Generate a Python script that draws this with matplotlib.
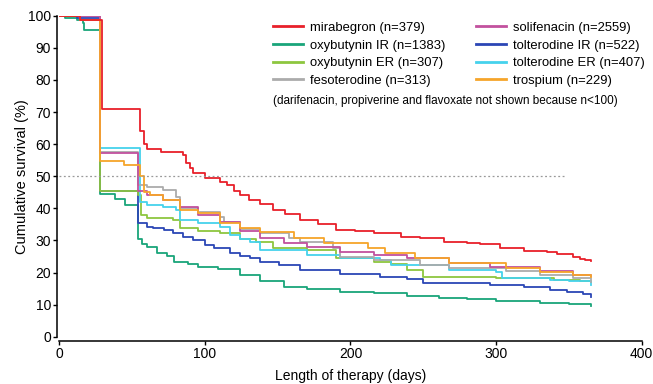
import numpy as np
import matplotlib
matplotlib.use("Agg")
import matplotlib.pyplot as plt

plt.rcParams["font.family"] = ["Liberation Sans", "DejaVu Sans"]

# Kaplan-Meier style curves (day, % still on therapy)
mira_days = [0, 14, 29, 55, 58, 60, 70, 85, 87, 90, 92, 100, 110, 115, 120, 124, 130, 138, 147, 155,
             165, 178, 190, 203, 216, 235, 248, 264, 280, 289, 303, 319, 335, 342, 353, 358, 361, 365]
mira_vals = [100, 98.7, 71, 64, 60, 58.5, 57.5, 56.5, 54.2, 52.5, 51, 49.5, 48.3, 47.3, 45.5, 44.1,
             42.6, 41.5, 39.5, 38.3, 36.5, 35, 33.4, 32.8, 32.3, 31.2, 30.7, 29.6, 29.2, 28.9, 27.5,
             26.8, 26.3, 25.8, 24.9, 24.3, 23.9, 23.5]

oxyir_days = [0, 4, 12, 16, 17, 28, 38, 45, 54, 57, 60, 67, 74, 79, 88, 95, 109, 124, 138, 154, 170,
              193, 216, 239, 261, 280, 300, 330, 350, 365]
oxyir_vals = [100, 99.2, 98.7, 97.6, 95.5, 44.5, 43, 41, 30.3, 29, 28, 26, 25, 23.4, 22.5, 21.8, 21,
              19.2, 17.3, 15.6, 14.9, 14, 13.5, 12.7, 12.2, 11.8, 11.2, 10.5, 10.1, 9.7]

oxyer_days = [0, 28, 54, 56, 60, 78, 83, 95, 110, 124, 135, 147, 170, 190, 216, 228, 239, 250, 300,
              340, 358, 365]
oxyer_vals = [100, 45.5, 44, 38, 37, 36.4, 34, 33, 32.2, 30.5, 29.5, 27.5, 27, 24.4, 23.4, 22.5, 20.8,
              18.7, 18.2, 17.7, 17.2, 16.9]

feso_days = [0, 28, 54, 60, 71, 80, 83, 95, 110, 113, 124, 138, 158, 165, 188, 193, 216, 248, 268,
             307, 330, 353, 365]
feso_vals = [100, 57.6, 47.3, 46.5, 45.7, 43.6, 40, 38.9, 37.4, 35.8, 33.5, 32.2, 30.7, 29.6, 27.5,
             24.9, 23.9, 22.3, 21.5, 20.5, 19.3, 18.2, 17.1]

soli_days = [0, 28, 54, 60, 71, 83, 95, 110, 124, 138, 154, 170, 193, 216, 239, 268, 296, 330, 353, 365]
soli_vals = [100, 57.2, 45.5, 44.1, 42.6, 40.5, 37.9, 35.8, 33, 30.7, 29.1, 28, 26.5, 25.5, 24.4, 23,
             21.8, 20.6, 19.3, 18.9]

tolir_days = [0, 12, 28, 54, 60, 64, 72, 78, 85, 92, 100, 106, 117, 124, 131, 138, 151, 165, 193, 220,
              239, 250, 296, 319, 337, 349, 360, 365]
tolir_vals = [100, 99.2, 45.4, 35.3, 34.3, 33.8, 33.3, 32.2, 31, 30.1, 28.5, 27.5, 26, 25.1, 24.4, 23.4,
              22.3, 20.8, 19.5, 18.7, 17.9, 16.8, 16.1, 15.4, 14.5, 13.8, 13.3, 12.5]

toler_days = [0, 28, 55, 60, 71, 80, 83, 95, 110, 117, 124, 131, 138, 170, 193, 220, 228, 268, 300,
              304, 337, 350, 365]
toler_vals = [100, 58.7, 42, 41, 40.5, 39.5, 36.4, 35.3, 34.2, 31.7, 30.5, 29.5, 27, 25.5, 24.4, 23.9,
              22.3, 20.8, 20.3, 18.2, 17.7, 17.2, 16.1]

tros_days = [0, 14, 28, 44, 55, 58, 62, 71, 83, 95, 110, 124, 138, 161, 182, 212, 224, 244, 268, 307,
             330, 353, 365]
tros_vals = [100, 98.7, 54.7, 53.5, 50, 45, 44.1, 42.6, 39.5, 38.4, 35.3, 33.8, 32.7, 30.7, 29.1, 27.5,
             26, 24.4, 23, 21.3, 20.3, 19.2, 18.6]

labels = ["mirabegron (n=379)", "oxybutynin IR (n=1383)", "oxybutynin ER (n=307)",
          "fesoterodine (n=313)", "solifenacin (n=2559)", "tolterodine IR (n=522)",
          "tolterodine ER (n=407)", "trospium (n=229)"]
colors = ["#e8202a", "#19a57a", "#8dc63f", "#ababab", "#c2519e", "#2b46b5", "#45d2ec", "#f6a52a"]

series = [(mira_days, mira_vals), (oxyir_days, oxyir_vals), (oxyer_days, oxyer_vals),
          (feso_days, feso_vals), (soli_days, soli_vals), (tolir_days, tolir_vals),
          (toler_days, toler_vals), (tros_days, tros_vals)]

fig = plt.figure(figsize=(6.53, 3.84), dpi=100)
ax = fig.add_axes([0.0911, 0.1232, 0.8913, 0.8357])

# draw back to front so mirabegron ends up on top
order = [1, 5, 2, 6, 3, 4, 7, 0]
handles = [None] * 8
for i in order:
    d, v = series[i]
    ln, = ax.plot(d, v, drawstyle="steps-post", color=colors[i], lw=1.3, label=labels[i])
    handles[i] = ln

ax.hlines(50, 0, 347, colors="#999999", linestyles=(0, (1.5, 2)), lw=0.9)

ax.set_xlim(0, 400)
ax.set_ylim(0, 100)
ax.set_xticks([0, 100, 200, 300, 400])
ax.set_yticks(np.arange(0, 101, 10))
ax.spines["top"].set_visible(False)
ax.spines["right"].set_visible(False)
ax.spines["left"].set_position(("outward", 1.5))
ax.spines["bottom"].set_position(("outward", 3))
for s in ["left", "bottom"]:
    ax.spines[s].set_linewidth(1.1)
ax.tick_params(width=1.0, length=3, pad=1.5, labelsize=10)
ax.set_xlabel("Length of therapy (days)", fontsize=10, labelpad=5.5)
ax.set_ylabel("Cumulative survival (%)", fontsize=10.5, labelpad=-1)

leg = ax.legend(handles=handles, labels=labels, ncol=2, frameon=False, fontsize=9.4,
                loc="upper left", bbox_to_anchor=(0.418, 0.943), bbox_transform=fig.transFigure,
                borderaxespad=0, borderpad=0, handlelength=2.3, handletextpad=0.5,
                columnspacing=2.4, labelspacing=0.42)
for ln in leg.get_lines():
    ln.set_linewidth(2)

fig.text(0.418, 0.738, "(darifenacin, propiverine and flavoxate not shown because n<100)",
         fontsize=8.5, va="center", ha="left")

plt.savefig("out.png", dpi=100)
